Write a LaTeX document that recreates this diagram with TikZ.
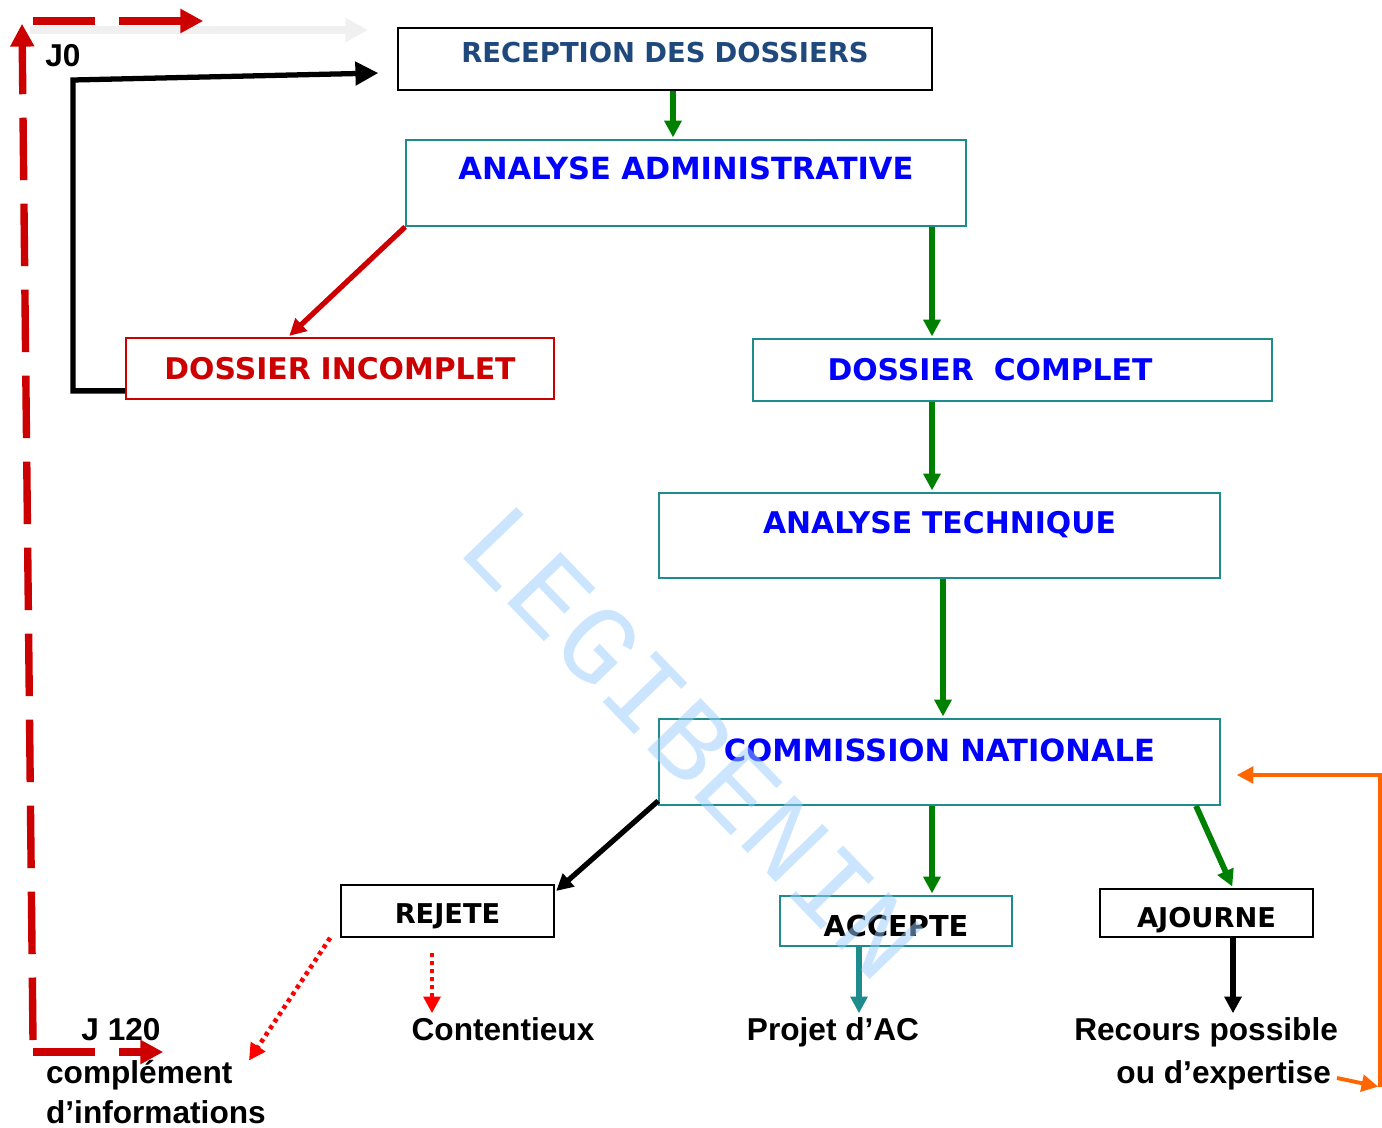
\documentclass[tikz,border=0pt]{standalone}
\usepackage{fontspec}
\usetikzlibrary{arrows.meta}
\newfontfamily\boxfont{DejaVu Sans}
\newfontfamily\labelfont{Liberation Sans}
\newfontfamily\markfont{Liberation Mono}
\definecolor{tealline}{RGB}{30,140,140}
\definecolor{darkgreen}{RGB}{0,128,0}
\definecolor{boxred}{RGB}{204,0,0}
\definecolor{navytext}{RGB}{31,73,125}
\definecolor{orangeline}{RGB}{255,102,0}
\definecolor{markblue}{RGB}{153,204,255}

\begin{document}
\begin{tikzpicture}[x=0.02cm,y=-0.02cm,>={Triangle[length=9.5pt,width=9.5pt]},shorten >=1pt,
    box/.style={draw,line width=1pt,inner sep=0pt,align=center},
    teal box/.style={box,draw=tealline,text=blue},
    big font/.style={font=\boxfont\bfseries\fontsize{17}{20}\selectfont},
    wide font/.style={font=\boxfont\bfseries\fontsize{17.4}{20}\selectfont},
    small font/.style={font=\boxfont\bfseries\fontsize{15.5}{18}\selectfont},
    step label/.style={font=\labelfont\bfseries\fontsize{18}{23}\selectfont,inner sep=1pt},
    big tip/.style={>={Triangle[length=13pt,width=13pt]}},
    green arrow/.style={->,draw=darkgreen,line width=3.3pt},
    black arrow/.style={->,draw=black,line width=3pt},
    red arrow/.style={->,draw=boxred,line width=3pt},
    teal arrow/.style={->,draw=tealline,line width=3pt},
    red dots/.style={->,draw=red,line width=2.6pt,dash pattern=on 2.3pt off 2.3pt},
    red dash/.style={->,big tip,draw=boxred,line width=4.2pt,dash pattern=on 1.25cm off 0.47cm},
    orange arrow/.style={->,draw=orangeline,line width=2.2pt}]
    \useasboundingbox (0,0) rectangle (1382,1128);

    \node[box,text=navytext,text width=10.68cm,text height=0.70cm,text depth=0.54cm,font=\boxfont\bfseries\fontsize{15.6}{18}\selectfont] (recep) at (665,59) {RECEPTION DES DOSSIERS};
    \node[teal box,wide font,text width=11.2cm,text height=0.80cm,text depth=0.92cm] (admin) at (686,183) {ANALYSE ADMINISTRATIVE};
    \node[box,big font,draw=boxred,text=boxred,text width=8.56cm,text height=0.84cm,text depth=0.38cm] (incomp) at (340,368.5) {DOSSIER INCOMPLET};
    \node[teal box,big font,text width=10.38cm,text height=0.84cm,text depth=0.40cm] (comp) at (1012.5,370) {DOSSIER~~COMPLET\hspace*{0.9cm}};
    \node[teal box,big font,text width=11.22cm,text height=0.80cm,text depth=0.90cm] (tech) at (939.5,535.5) {ANALYSE TECHNIQUE};
    \node[teal box,wide font,text width=11.22cm,text height=0.84cm,text depth=0.88cm] (comm) at (939.5,762) {COMMISSION NATIONALE};
    \node[box,small font,text width=4.26cm,text height=0.76cm,text depth=0.28cm] (rejete) at (447.5,911) {REJETE};
    \node[box,draw=tealline,font=\boxfont\bfseries\fontsize{16.4}{19}\selectfont,text width=4.64cm,text height=0.80cm,text depth=0.20cm] (accepte) at (896,921) {ACCEPTE};
    \node[box,small font,text width=4.26cm,text height=0.76cm,text depth=0.20cm] (ajourne) at (1206.5,913) {AJOURNE};

    \node[step label,anchor=base] (cont) at (503,1040) {Contentieux};
    \node[step label,anchor=base] (projet) at (833,1040) {Projet d’AC};
    \node[step label,anchor=north east,align=right,font=\labelfont\bfseries\fontsize{18}{24.5}\selectfont] (recours) at (1340,1015) {Recours possible\\ou d’expertise\hspace*{0.14cm}};
    \node[step label,anchor=north west,align=left] (compl) at (44,1058) {complément\\d’informations};
    \node[step label,anchor=base] (jzero) at (63,67) {J0};
    \node[step label,anchor=base] (jend) at (121,1040) {J 120};

    \coordinate (colA) at (673,0);
    \coordinate (colB) at (932,0);
    \coordinate (colC) at (943,0);
    \coordinate (colD) at (1233,0);
    \coordinate (colE) at (859,0);
    \coordinate (colF) at (432,0);
    \coordinate (colG) at (288,0);
    \coordinate (colH) at (1196,0);
    \coordinate (loop) at (73,80);
    \coordinate (loopend) at (380,73);
    \coordinate (cplin) at (248,1062);
    \coordinate (orA) at (1337,1078);
    \coordinate (orC) at (1380,1087);
    \coordinate (orB) at (1235,775);
    \coordinate (jtop) at (22,22);
    \coordinate (jbot) at (33,1040);
    \coordinate (jtopstart) at (33,21);
    \coordinate (jtopend) at (205,21);
    \coordinate (jbotstart) at (33,1052);
    \coordinate (jbotend) at (165,1052);
    \coordinate (greyA) at (30,30);
    \coordinate (greyB) at (370,30);

    \draw[->,big tip,draw=black!6,line width=4.5pt] (greyA) -- (greyB);
    \draw[red dash] (jbot) -- (jtop);
    \draw[red dash] (jtopstart) -- (jtopend);
    \draw[red dash] (jbotstart) -- (jbotend);

    \path[every edge/.style={green arrow}]
        (recep.south -| colA) edge (admin.north -| colA)
        (admin.south -| colB) edge (comp.north -| colB)
        (comp.south -| colB) edge (tech.north -| colB)
        (tech.south -| colC) edge (comm.north -| colC)
        (comm.south -| colB) edge (accepte.north -| colB)
        (comm.south -| colH) edge (ajourne.north -| colD);
    \path[every edge/.style={red arrow}] (admin.south west) edge (incomp.north -| colG);
    \draw[black arrow,big tip] ([yshift=0.18cm]incomp.south west) -| (loop) -- (loopend);
    \path[every edge/.style={black arrow}]
        ([yshift=0.1cm]comm.south west) edge ([yshift=-0.16cm]rejete.north east)
        (ajourne.south -| colD) edge (recours.north -| colD);
    \path[every edge/.style={teal arrow}] (accepte.south -| colE) edge (projet.north -| colE);
    \path[every edge/.style={red dots}]
        (rejete.south -| colF) edge[shorten <=0.3cm] (cont.north -| colF)
        ([xshift=-0.2cm]rejete.south west) edge (cplin);
    \draw[orange arrow] (orA) -- (orC);
    \draw[orange arrow] (orC) |- (orB);

    \node[rotate=-46,text=markblue,opacity=0.5,font=\markfont\fontsize{64}{64}\selectfont] (mark) at (692,742) {LEGIBENIN};
\end{tikzpicture}
\end{document}
